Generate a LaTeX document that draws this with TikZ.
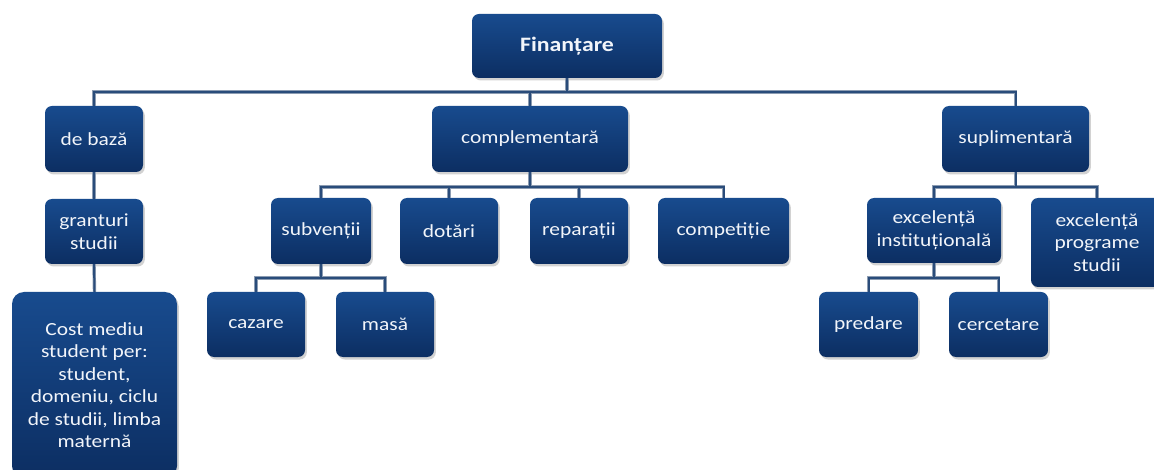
\documentclass[tikz,border=0pt]{standalone}
\usepackage{fontspec}
\setmainfont{Carlito}[FakeStretch=1.16]
\usetikzlibrary{shadows}
\definecolor{boxtop}{HTML}{184B8E}
\definecolor{boxbot}{HTML}{0C2E62}
\definecolor{conncore}{HTML}{2A4C7A}
\definecolor{connrim}{HTML}{8C9CB2}
\definecolor{boxtext}{HTML}{F2F5FA}
\tikzset{
  box/.style={rounded corners=7pt, top color=boxtop, bottom color=boxbot,
    draw=none, text=boxtext, align=center, inner sep=2pt,
    minimum width=98pt, minimum height=66pt,
    font=\fontsize{18.5pt}{22.5pt}\selectfont,
    drop shadow={opacity=0.35, shadow xshift=1.8pt, shadow yshift=-2.5pt}},
}
\newcommand\myconnectors{%
  \draw (fin.south) -- (fin.south |- bA);
  \draw (baza.north) -- (baza.north |- bA) -- (supl.north |- bA) -- (supl.north);
  \draw (compl.north) -- (compl.north |- bA);
  \draw (baza.south) -- (gran.north);
  \draw (gran.south) -- (cost.north);
  \draw (compl.south) -- (compl.south |- bB);
  \draw (subv.north) -- (subv.north |- bB) -- (comp.north |- bB) -- (comp.north);
  \draw (dot.north) -- (dot.north |- bB);
  \draw (rep.north) -- (rep.north |- bB);
  \draw (supl.south) -- (supl.south |- bB);
  \draw (exi.north) -- (exi.north |- bB) -- (exp.north |- bB) -- (exp.north);
  \draw (subv.south) -- (subv.south |- bC);
  \draw (caz.north) -- (caz.north |- bC) -- (mas.north |- bC) -- (mas.north);
  \draw (exi.south) -- (exi.south |- bC);
  \draw (pred.north) -- (pred.north |- bC) -- (cerc.north |- bC) -- (cerc.north);
}
\begin{document}
\begin{tikzpicture}[x=1pt,y=1pt]
\useasboundingbox[fill=white] (0,0) rectangle (1154,-470);
\coordinate (bA) at (0,-92);
\coordinate (bB) at (0,-187);
\coordinate (bC) at (0,-278);
% connectors first (behind boxes) - nodes are needed, so draw boxes in background later
\node[box, minimum width=190pt, minimum height=64pt, font=\fontsize{20.5pt}{24pt}\selectfont\bfseries] (fin) at (567,-46) {Finanțare};
\node[box] (baza) at (94,-139) {de bază};
\node[box, minimum width=196pt] (compl) at (530,-139) {complementară};
\node[box, minimum width=147pt] (supl) at (1015.5,-139) {suplimentară};
\node[box, minimum height=65pt] (gran) at (94,-231.5) {granturi\\studii};
\node[box, minimum width=100pt] (subv) at (321,-231) {subvenții};
\node[box] (dot) at (449,-231) {dotări};
\node[box] (rep) at (579,-231) {reparații};
\node[box, minimum width=131pt] (comp) at (723.5,-231) {competiție};
\node[box, minimum width=134pt, minimum height=65pt] (exi) at (934,-230.5) {excelență\\instituțională};
\node[box, minimum width=132pt, minimum height=89pt] (exp) at (1097,-242.5) {excelență\\programe\\studii};
\node[box, minimum height=65pt] (caz) at (256,-324.5) {cazare};
\node[box, minimum height=65pt] (mas) at (385,-324.5) {masă};
\node[box, minimum width=99pt, minimum height=65pt] (pred) at (868.5,-324.5) {predare};
\node[box, minimum width=99pt, minimum height=65pt] (cerc) at (998.5,-324.5) {cercetare};
\node[box, minimum width=165pt, minimum height=186pt, rounded corners=12pt] (cost) at (94.5,-385) {Cost mediu\\student per:\\student,\\domeniu, ciclu\\de studii, limba\\maternă};
\begin{scope}[color=connrim, line width=3.4pt]
\myconnectors
\end{scope}
\begin{scope}[color=conncore, line width=2pt]
\myconnectors
\end{scope}
\end{tikzpicture}
\end{document}
